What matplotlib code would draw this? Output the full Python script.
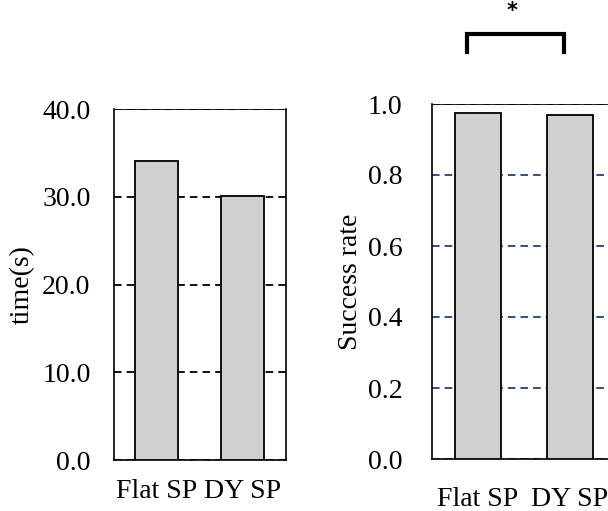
import matplotlib
matplotlib.use("Agg")
import matplotlib.pyplot as plt

categories = ["Flat SP", "DY SP"]
time_values = [34.1, 30.1]
success_values = [0.975, 0.970]
time_ticks = [0.0, 10.0, 20.0, 30.0, 40.0]
success_ticks = [0.0, 0.2, 0.4, 0.6, 0.8, 1.0]

plt.rcParams["font.family"] = ["Liberation Serif", "DejaVu Serif"]
plt.rcParams["font.size"] = 20

fig = plt.figure(figsize=(6.08, 5.11), dpi=100)
W, H = 608, 511

def px_axes(x0, y0, x1, y1):
    return fig.add_axes([x0 / W, 1 - y1 / H, (x1 - x0) / W, (y1 - y0) / H])

bar_color = "#d0d0d0"
dash = (0, (4.2, 2.8))

# Left panel: completion time
ax1 = px_axes(113.5, 109, 286, 460)
x = range(len(categories))
ax1.bar(x, time_values, width=0.5, color=bar_color, edgecolor="black",
        linewidth=1.3, zorder=3)
ax1.set_xlim(-0.5, 1.5)
ax1.set_ylim(0, 40)
ax1.set_yticks(time_ticks)
ax1.set_yticklabels([f"{v:.1f}" for v in time_ticks])
ax1.set_xticks(list(x))
ax1.set_xticklabels(categories)
ax1.yaxis.grid(True, color="black", linestyle=dash, linewidth=1.3, zorder=1)
ax1.set_axisbelow(True)
ax1.tick_params(axis="y", length=0, pad=16.5)
ax1.tick_params(axis="x", length=0, pad=14)
ax1.set_ylabel("time(s)", labelpad=5)
for s in ax1.spines.values():
    s.set_linewidth(1.2)
ax1.spines["top"].set_linewidth(0.6)

# Right panel: success rate
ax2 = px_axes(432, 104, 616, 459)
ax2.bar(x, success_values, width=0.5, color=bar_color, edgecolor="black",
        linewidth=1.3, zorder=3)
ax2.set_xlim(-0.5, 1.5)
ax2.set_ylim(0, 1.0)
ax2.set_yticks(success_ticks)
ax2.set_yticklabels([f"{v:.1f}" for v in success_ticks])
ax2.set_xticks(list(x))
ax2.set_xticklabels(categories)
ax2.yaxis.grid(True, color="#22427a", linestyle=dash, linewidth=1.3, zorder=1)
ax2.set_axisbelow(True)
ax2.tick_params(axis="y", length=0, pad=21.5)
ax2.tick_params(axis="x", length=0, pad=20)
ax2.set_ylabel("Success rate", labelpad=3)
for s in ax2.spines.values():
    s.set_linewidth(1.2)
ax2.spines["top"].set_linewidth(0.6)

# Significance bracket above the success-rate bars
bx0, bx1 = -0.12, 0.93
ytop, ybot = 1.197, 1.147
ax2.plot([bx0, bx0, bx1, bx1], [ybot, ytop, ytop, ybot], color="black",
         linewidth=3, clip_on=False, solid_joinstyle="miter")
ax2.text((bx0 + bx1) / 2 - 0.03, 1.262, "*", ha="center", va="center",
         fontsize=15, fontweight="bold", family="DejaVu Sans", clip_on=False)

fig.savefig("out.png", dpi=100)
